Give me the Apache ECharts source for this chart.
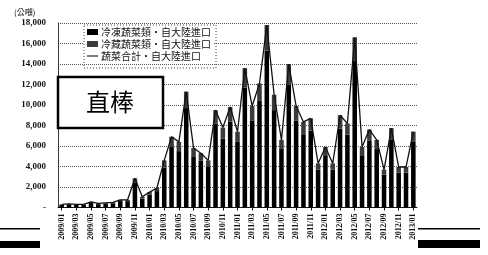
<!DOCTYPE html>
<html><head><meta charset="utf-8">
<script src="https://cdn.jsdelivr.net/npm/echarts@6/dist/echarts.min.js"></script>
<style>html,body{margin:0;padding:0;background:#fff}#c{width:488px;height:255px}</style>
</head><body><div id="c"></div>
<script>
const months = ['2009/01','2009/02','2009/03','2009/04','2009/05','2009/06','2009/07','2009/08','2009/09','2009/10','2009/11','2009/12',
'2010/01','2010/02','2010/03','2010/04','2010/05','2010/06','2010/07','2010/08','2010/09','2010/10','2010/11','2010/12',
'2011/01','2011/02','2011/03','2011/04','2011/05','2011/06','2011/07','2011/08','2011/09','2011/10','2011/11','2011/12',
'2012/01','2012/02','2012/03','2012/04','2012/05','2012/06','2012/07','2012/08','2012/09','2012/10','2012/11','2012/12',
'2013/01'];
const seriesNames = ['冷凍蔬菜類·自大陸進口','冷藏蔬菜類·自大陸進口','蔬菜合計·自大陸進口'];
const frozen = [250,290,250,260,450,330,370,410,630,620,2400,850,
1250,1600,3900,5900,5500,9700,5000,4600,3950,8200,6700,8400,
6400,11700,8500,10400,15300,9500,5700,12000,8500,7150,7500,3700,
5100,3700,7700,7100,14300,5100,6500,5700,3200,6650,3400,3400,
6400];
const chilled = [50,60,50,40,100,70,80,90,120,130,450,200,
250,300,700,1000,900,1600,800,700,650,1300,1100,1400,
1000,1900,1400,1700,2500,1500,900,2000,1400,1200,1200,600,
800,600,1300,1100,2300,800,1100,900,500,1100,550,550,
1000];
const total = [300,350,300,300,550,400,450,500,750,750,2850,1050,
1500,1900,4600,6900,6400,11300,5800,5300,4600,9500,7800,9800,
7400,13600,9900,12100,17800,11000,6600,14000,9900,8350,8700,4300,
5900,4300,9000,8200,16600,5900,7600,6600,3700,7750,3950,3950,
7400];
const unitLabel = '(公噸)';
const boxLabel = '直棒';

const chart = echarts.init(document.getElementById('c'), null, {renderer:'canvas'});
const serif = '"Liberation Serif","DejaVu Serif",serif';
const cjk = '"Noto Sans CJK TC","Noto Sans CJK SC",sans-serif';
chart.setOption({
  animation:false,
  backgroundColor:'#fff',
  grid:{left:58, right:71, top:23, bottom:47.5},
  legend:{
    left:84, top:25, orient:'vertical', itemGap:2, itemWidth:11, itemHeight:6,
    backgroundColor:'#fff', padding:[2,3,2,3],
    borderColor:'#444', borderWidth:0,
    textStyle:{fontFamily:cjk, fontSize:10, color:'#111', padding:[0,0,0,-2]},
    data:[{name:seriesNames[0], icon:'rect'},{name:seriesNames[1], icon:'rect'},{name:seriesNames[2], icon:'path://M0,4 L20,4 L20,6 L0,6 Z'}]
  },
  xAxis:{
    type:'category', data:months, boundaryGap:true,
    axisLine:{show:true, lineStyle:{color:'#111', width:1}},
    axisTick:{show:true, alignWithLabel:true, length:3, lineStyle:{color:'#111'}},
    axisLabel:{rotate:90, interval:1, fontFamily:serif, fontWeight:'bold', fontSize:8, color:'#111', margin:6}
  },
  yAxis:{
    type:'value', min:0, max:18000, interval:2000,
    axisLine:{show:true, lineStyle:{color:'#222', type:'dotted', width:1}},
    axisTick:{show:false},
    splitLine:{show:true, lineStyle:{color:'#555', type:'dotted', width:1}},
    axisLabel:{fontFamily:serif, fontWeight:'bold', fontSize:9, color:'#111', margin:12,
      formatter:v=> v===0 ? '-' : v.toLocaleString('en-US')}
  },
  series:[
    {name:seriesNames[0], type:'bar', stack:'v', data:frozen, barWidth:'62%', itemStyle:{color:'#000'}},
    {name:seriesNames[1], type:'bar', stack:'v', data:chilled, barWidth:'62%', itemStyle:{color:'#3a3a3a'}},
    {name:seriesNames[2], type:'line', data:total, symbol:'none', z:5, lineStyle:{color:'#111', width:1.3}, itemStyle:{color:'#111'}}
  ],
  graphic:[
    {type:'text', left:14, top:8, style:{text:unitLabel, fontFamily:cjk, fontSize:8, fill:'#111'}},
    {type:'rect', shape:{x:84, y:25, width:132, height:43}, style:{fill:null, stroke:'#444', lineWidth:1, lineDash:[1,2]}, z:100},
    {type:'rect', shape:{x:58, y:77, width:105, height:51}, style:{fill:'#fff', stroke:'#000', lineWidth:2.5}, z:100},
    {type:'text', x:110, y:102, style:{text:boxLabel, fontFamily:cjk, fontSize:24, fill:'#000', align:'center', verticalAlign:'middle'}, z:101},
    {type:'rect', shape:{x:0, y:228, width:40, height:1.5}, style:{fill:'#000'}},
    {type:'rect', shape:{x:0, y:241, width:40, height:7}, style:{fill:'#000'}},
    {type:'rect', shape:{x:418, y:228, width:62, height:1.5}, style:{fill:'#000'}},
    {type:'rect', shape:{x:418, y:240, width:62, height:8}, style:{fill:'#000'}}
  ]
});
</script></body></html>
